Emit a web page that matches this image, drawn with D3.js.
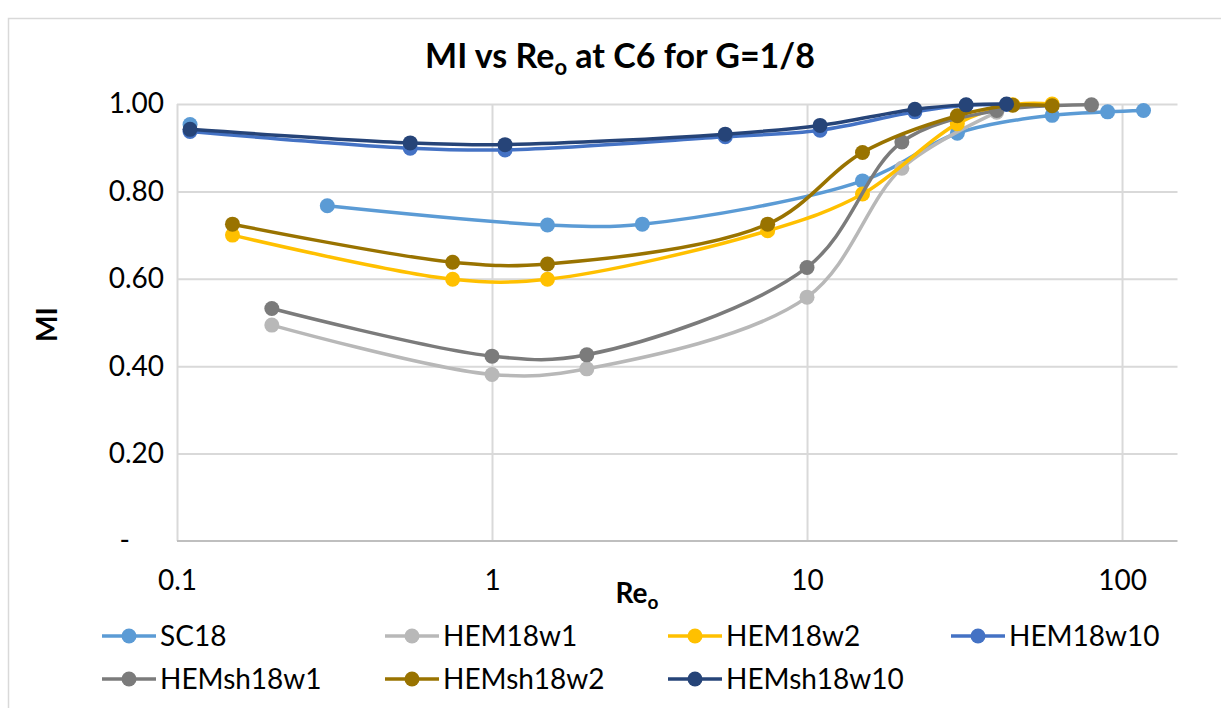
<!DOCTYPE html>
<html>
<head>
<meta charset="utf-8">
<script src="https://cdn.jsdelivr.net/npm/d3@7"></script>
<style>
  html, body { margin: 0; padding: 0; background: #fff; }
  svg { display: block; }
  text { font-family: Lato, "Liberation Sans", sans-serif; fill: #000; }
</style>
</head>
<body>
<script>
// Mixing index (MI) against outlet Reynolds number, one array pair per series.
// A null MI leaves a gap in that series' line.
const reSC18 = [0.11, 0.2, 0.3, 1.5, 3, 15, 30, 60, 90, 117];
const miSC18 = [0.953, null, 0.767, 0.723, 0.725, 0.824, 0.933, 0.974, 0.982, 0.985];

const reHEM18w1 = [0.2, 1, 2, 10, 20, 40];
const miHEM18w1 = [0.494, 0.381, 0.394, 0.558, 0.853, 0.981];

const reHEM18w2 = [0.15, 0.75, 1.5, 7.5, 15, 30, 45, 60];
const miHEM18w2 = [0.700, 0.599, 0.599, 0.710, 0.794, 0.955, 0.998, 1.0];

const reHEM18w10 = [0.11, 0.55, 1.1, 5.5, 11, 22, 32, 43];
const miHEM18w10 = [0.937, 0.899, 0.895, 0.925, 0.940, 0.982, 0.997, 0.999];

const reHEMsh18w1 = [0.2, 1, 2, 10, 20, 40, 80];
const miHEMsh18w1 = [0.532, 0.423, 0.426, 0.626, 0.913, 0.985, 0.998];

const reHEMsh18w2 = [0.15, 0.75, 1.5, 7.5, 15, 30, 45, 60];
const miHEMsh18w2 = [0.725, 0.638, 0.634, 0.725, 0.889, 0.973, 0.997, 0.996];

const reHEMsh18w10 = [0.11, 0.55, 1.1, 5.5, 11, 22, 32, 43];
const miHEMsh18w10 = [0.942, 0.911, 0.907, 0.931, 0.951, 0.988, 0.998, 1.0];

const seriesNames = ["SC18", "HEM18w1", "HEM18w2", "HEM18w10", "HEMsh18w1", "HEMsh18w2", "HEMsh18w10"];
const seriesColors = ["#5b9bd5", "#b8b8b8", "#ffc000", "#4472c4", "#7b7b7b", "#997300", "#264478"];

const xTicks = [0.1, 1, 10, 100];
const xTickLabels = ["0.1", "1", "10", "100"];
const yTicks = [0, 0.2, 0.4, 0.6, 0.8, 1.0];
const yTickLabels = ["-", "0.20", "0.40", "0.60", "0.80", "1.00"];

const series = [
  { name: seriesNames[0], color: seriesColors[0], re: reSC18, mi: miSC18 },
  { name: seriesNames[1], color: seriesColors[1], re: reHEM18w1, mi: miHEM18w1 },
  { name: seriesNames[2], color: seriesColors[2], re: reHEM18w2, mi: miHEM18w2 },
  { name: seriesNames[3], color: seriesColors[3], re: reHEM18w10, mi: miHEM18w10 },
  { name: seriesNames[4], color: seriesColors[4], re: reHEMsh18w1, mi: miHEMsh18w1 },
  { name: seriesNames[5], color: seriesColors[5], re: reHEMsh18w2, mi: miHEMsh18w2 },
  { name: seriesNames[6], color: seriesColors[6], re: reHEMsh18w10, mi: miHEMsh18w10 }
].map(s => ({ ...s, points: s.re.map((r, i) => [r, s.mi[i]]) }));

const W = 1221, H = 708;
const plot = { left: 177, right: 1177.5, top: 104, bottom: 541 };

const svg = d3.select("body").append("svg")
  .attr("width", W).attr("height", H);

// chart frame
svg.append("rect")
  .attr("x", 8.5).attr("y", 18.5)
  .attr("width", W).attr("height", H)
  .attr("fill", "#fff")
  .attr("stroke", "#d9d9d9").attr("stroke-width", 1.5);

const x = d3.scaleLog().domain([0.1, 150]).range([plot.left, plot.right]);
const y = d3.scaleLinear().domain([0, 1]).range([plot.bottom, plot.top]);

// horizontal gridlines
svg.append("g")
  .attr("transform", `translate(${plot.left},0)`)
  .call(d3.axisLeft(y).tickValues(yTicks.filter(v => v > 0))
    .tickSize(-(plot.right - plot.left)).tickFormat(""))
  .call(g => g.select(".domain").remove())
  .call(g => g.selectAll("line").attr("stroke", "#d9d9d9").attr("stroke-width", 2));

// vertical gridlines at each decade
svg.append("g")
  .attr("transform", `translate(0,${plot.bottom})`)
  .call(d3.axisBottom(x).tickValues(xTicks)
    .tickSize(-(plot.bottom - plot.top)).tickFormat(""))
  .call(g => g.select(".domain").remove())
  .call(g => g.selectAll("line").attr("stroke", "#d9d9d9").attr("stroke-width", 2));

// category axis line along MI = 0
svg.append("line")
  .attr("x1", plot.left).attr("x2", plot.right)
  .attr("y1", y(0)).attr("y2", y(0))
  .attr("stroke", "#bfbfbf").attr("stroke-width", 2);

// y tick labels
const yAxis = svg.append("g")
  .attr("transform", `translate(${plot.left},0)`)
  .call(d3.axisLeft(y).tickValues(yTicks).tickSize(0).tickPadding(13)
    .tickFormat(d => yTickLabels[yTicks.indexOf(d)]));
yAxis.select(".domain").remove();
yAxis.selectAll("text")
  .style("font-size", "28px")
  .attr("dx", d => d === 0 ? -34 : 0);

// x tick labels
const xAxis = svg.append("g")
  .attr("transform", `translate(0,${plot.bottom})`)
  .call(d3.axisBottom(x).tickValues(xTicks).tickSize(0).tickPadding(29)
    .tickFormat(d => xTickLabels[xTicks.indexOf(d)]));
xAxis.select(".domain").remove();
xAxis.selectAll("text").style("font-size", "28px");

// series lines (smoothed) and markers
const line = d3.line()
  .defined(d => d[1] != null)
  .x(d => x(d[0])).y(d => y(d[1]))
  .curve(d3.curveCatmullRom.alpha(0.5));

const gSeries = svg.append("g");
series.forEach(s => {
  const g = gSeries.append("g");
  g.append("path")
    .attr("d", line(s.points))
    .attr("fill", "none")
    .attr("stroke", s.color)
    .attr("stroke-width", 3.5)
    .attr("stroke-linejoin", "round")
    .attr("stroke-linecap", "round");
  g.selectAll("circle").data(s.points.filter(d => d[1] != null)).join("circle")
    .attr("cx", d => x(d[0])).attr("cy", d => y(d[1]))
    .attr("r", 7.5)
    .attr("fill", s.color);
});

// title
const title = svg.append("text")
  .attr("x", 620).attr("y", 68)
  .attr("text-anchor", "middle")
  .style("font-size", "34px").style("font-weight", "bold");
title.append("tspan").text("MI vs Re");
title.append("tspan").attr("dy", 7).style("font-size", "22px").text("o");
title.append("tspan").attr("dy", -7).text(" at C6 for G=1/8");

// axis titles
svg.append("text")
  .attr("transform", `translate(57,${(plot.top + plot.bottom) / 2 + 2}) rotate(-90)`)
  .attr("text-anchor", "middle")
  .style("font-size", "28px").style("font-weight", "bold")
  .text("MI");

const xTitle = svg.append("text")
  .attr("x", 637).attr("y", 603)
  .attr("text-anchor", "middle")
  .style("font-size", "28px").style("font-weight", "bold");
xTitle.append("tspan").text("Re");
xTitle.append("tspan").attr("dy", 6).style("font-size", "19px").text("o");

// legend: four entries per row
const legend = svg.append("g");
const legX0 = 102, legDX = 283, legY0 = 636, legDY = 43;
series.forEach((s, i) => {
  const col = i % 4, row = Math.floor(i / 4);
  const g = legend.append("g")
    .attr("transform", `translate(${legX0 + col * legDX},${legY0 + row * legDY})`);
  g.append("line").attr("x1", 0).attr("x2", 54).attr("y1", 0).attr("y2", 0)
    .attr("stroke", s.color).attr("stroke-width", 3.5);
  g.append("circle").attr("cx", 27).attr("cy", 0).attr("r", 7.5).attr("fill", s.color);
  g.append("text").attr("x", 58).attr("y", 0).attr("dy", "0.35em")
    .style("font-size", "28px").text(s.name);
});
</script>
</body>
</html>
